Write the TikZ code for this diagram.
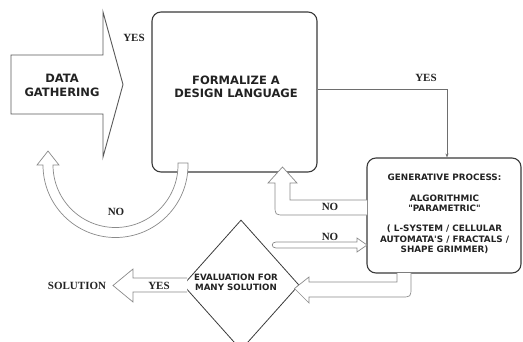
\documentclass[tikz,border=0pt]{standalone}
\usepackage{fontspec}
\setmainfont{Liberation Serif}
\newfontfamily\vfont{DejaVu Sans}
\usetikzlibrary{shapes.geometric,arrows.meta}
\definecolor{boxc}{HTML}{3A3A3A}
\definecolor{arrc}{HTML}{8A8A8A}
\definecolor{txt}{HTML}{222222}
\begin{document}
\begin{tikzpicture}[x=1pt,y=-1pt,
  box/.style={draw=boxc, line width=1.1pt, rounded corners=9pt, fill=white, inner sep=0pt},
  hol/.style={draw=arrc, line width=0.7pt, fill=white, line join=miter},
  darr/.style={draw=boxc!85, line width=0.9pt, fill=white},
  conn/.style={draw=arrc!80!black, line width=0.6pt, -{Stealth[length=4pt,width=3pt]}},
  sl/.style={font=\fontsize{11}{12}\selectfont\bfseries, text=txt, inner sep=0pt},
  big/.style={font=\vfont\bfseries\fontsize{11.5}{13}\selectfont, align=center, text=txt, inner sep=0pt},
  small/.style={font=\vfont\bfseries\fontsize{8.8}{10.4}\selectfont, align=center, text=txt, inner sep=0pt}]
\useasboundingbox (0,0) rectangle (523,341);

% data gathering arrow
\draw[darr] (11,55) -- (103,55) -- (103,12) -- (123,84.5) -- (103,157) -- (103,114) -- (11,114) -- cycle;
\node[big, font=\vfont\bfseries\fontsize{11.5}{14}\selectfont] (dgt) at (62,85) {DATA\\GATHERING};
\node[sl] (yes1) at (134,38) {YES};

% boxes
\node[box, minimum width=165pt, minimum height=160pt] (form) at (234.5,92) {};
\node[big] (formt) at (236,86.5) {FORMALIZE A\\DESIGN LANGUAGE};
\node[box, minimum width=154pt, minimum height=115pt] (gen) at (444,215.5) {};
\node[small] (gent) at (444.5,214) {GENERATIVE PROCESS:\\[10pt]ALGORITHMIC\\"PARAMETRIC"\\[10pt]( L-SYSTEM / CELLULAR\\AUTOMATA'S / FRACTALS /\\SHAPE GRIMMER)};

% diamond
\node[draw=boxc, diamond, minimum width=116pt, minimum height=130pt, inner sep=0pt, line width=0.8pt] (eval) at (241,285) {};
\node[small, font=\vfont\bfseries\fontsize{8.7}{10}\selectfont] (evalt) at (236,282) {EVALUATION FOR\\MANY SOLUTION};

% YES connector
\coordinate (y89) at (0,89);
\draw[conn] (form.east |- y89) -| ([xshift=3pt]gen.north);
\node[sl] (yes2) at (426,78) {YES};

% NO curved arrow back to data gathering
\draw[hol] (188,163) -- (188,165) arc[start angle=0, end angle=-180, radius=72.5pt]
  -- (37,165) -- (48,151) -- (59,165) -- (53,165)
  arc[start angle=-180, end angle=0, radius=62.5pt] -- (178,163) -- cycle;
\node[sl] (no1) at (116,212) {NO};

% NO arrow gen -> formalize
\draw[hol] (367,200) -- (290,200) -- (290,183) -- (297,183) -- (282.5,167) -- (268,183) -- (275,183)
  -- (275,205) .. controls (275,215) .. (285,215) -- (367,215);
\node[sl] (no2) at (330,207) {NO};

% NO thin arrow diamond -> gen
\draw[hol] (357,242) -- (276,242) .. controls (271,242) and (271,248) .. (276,248) -- (357,248)
  -- (357,252) -- (367,245) -- (357,238) -- cycle;
\node[sl] (no3) at (330,237) {NO};

% arrow gen -> diamond
\draw[hol] (397,273) -- (397,282) -- (309,282) -- (309,277) -- (294.5,288.5) -- (309,303) -- (309,297)
  -- (401,297) .. controls (411,297) .. (411,287) -- (411,273);

% YES arrow to solution
\draw[hol] (187,278) -- (133,278) -- (133,269) -- (113,285.5) -- (133,302) -- (133,292) -- (187,292);
\node[sl] (yes3) at (159,285.5) {YES};
\node[sl] (sol) at (77,286) {SOLUTION};
\end{tikzpicture}
\end{document}
